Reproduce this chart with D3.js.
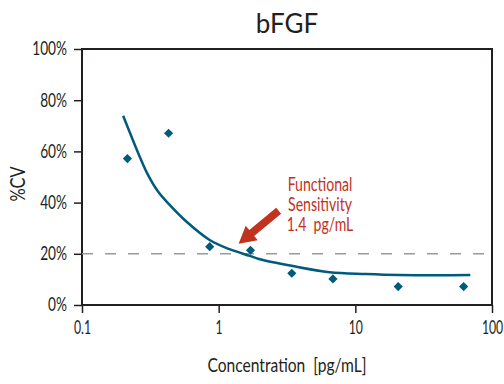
<!DOCTYPE html>
<html>
<head>
<meta charset="utf-8">
<script src="https://cdn.jsdelivr.net/npm/d3@7"></script>
<style>
  body { margin: 0; background: #fff; }
  text { font-family: Lato, "Open Sans", sans-serif; }
</style>
</head>
<body>
<svg id="chart" width="504" height="384"></svg>
<script>
// measured points: concentration (pg/mL) and %CV
const concentrations = [0.215, 0.43, 0.86, 1.71, 3.43, 6.86, 20.6, 62];
const cvValues = [57.2, 67.1, 22.8, 21.4, 12.4, 10.2, 7.2, 7.2];

// fitted curve
const fitConc = [0.2, 0.23, 0.264, 0.304, 0.36, 0.438, 0.58, 0.859, 1.2, 1.69, 2.0, 3.42, 6.48, 12, 21.1, 40, 69.4];
const fitCv = [73.9, 65.8, 58.0, 50.8, 44.3, 39.1, 32.6, 25.4, 21.8, 19.2, 17.9, 15.3, 12.8, 12.1, 11.7, 11.6, 11.7];

const xTicks = [0.1, 1, 10, 100];
const yTicks = [0, 20, 40, 60, 80, 100];
const cutoff = 20;
const sensitivityLines = ["Functional", "Sensitivity", "1.4  pg/mL"];

const margin = { top: 49, right: 12, bottom: 79, left: 82 };
const width = 504, height = 384;
const blue = "#005a7c", red = "#c1321f", ink = "#231f20";

const svg = d3.select("#chart");

const x = d3.scaleLog().domain([0.1, 100]).range([margin.left, width - margin.right]);
const y = d3.scaleLinear().domain([0, 100]).range([height - margin.bottom, margin.top]);

// squeeze text so it looks like the narrow face of the original
const condense = (sel, k) =>
  sel.each(function () {
    const w = this.getComputedTextLength();
    d3.select(this).attr("textLength", w * k).attr("lengthAdjust", "spacingAndGlyphs");
  });

// * title
svg.append("text")
  .attr("x", (x.range()[0] + x.range()[1]) / 2)
  .attr("y", 33)
  .attr("text-anchor", "middle")
  .style("font-size", "26px")
  .style("fill", ink)
  .text("bFGF");

// * frame
svg.append("rect")
  .attr("x", x.range()[0])
  .attr("y", y.range()[1])
  .attr("width", x.range()[1] - x.range()[0])
  .attr("height", y.range()[0] - y.range()[1])
  .style("fill", "none")
  .style("stroke", ink)
  .style("stroke-width", 2);

// * axes
const xAxis = svg.append("g")
  .attr("transform", `translate(0,${y.range()[0]})`)
  .call(d3.axisBottom(x).tickValues(xTicks).tickFormat(d3.format("")).tickSize(8).tickPadding(8));

const yAxis = svg.append("g")
  .attr("transform", `translate(${x.range()[0]},0)`)
  .call(d3.axisLeft(y).tickValues(yTicks).tickFormat((d) => d + "%").tickSize(8).tickPadding(7));

[xAxis, yAxis].forEach((axis) => {
  axis.select(".domain").remove();
  axis.selectAll(".tick line").style("stroke", ink).style("stroke-width", 1.5);
  axis.selectAll(".tick text").style("font-family", "Lato, sans-serif").style("font-size", "18.5px").style("fill", ink);
});
// x labels sit at x=0, so a plain horizontal scale keeps them centred on the tick
xAxis.selectAll(".tick text").attr("transform", "scale(0.66,1)");
condense(yAxis.selectAll(".tick text"), 0.74);

// * axis titles
condense(
  svg.append("text")
    .attr("x", (x.range()[0] + x.range()[1]) / 2)
    .attr("y", 372)
    .attr("text-anchor", "middle")
    .style("white-space", "pre")
    .style("font-size", "20px")
    .style("fill", ink)
    .text("Concentration  [pg/mL]"),
  0.78,
);

condense(
  svg.append("text")
    .attr("transform", "translate(25,184) rotate(-90)")
    .attr("text-anchor", "middle")
    .style("font-size", "21px")
    .style("fill", ink)
    .text("%CV"),
  0.78,
);

// * 20% cutoff line
svg.append("line")
  .attr("x1", x.range()[0])
  .attr("x2", x.range()[1])
  .attr("y1", y(cutoff))
  .attr("y2", y(cutoff))
  .style("stroke", "#9a9a9a")
  .style("stroke-width", 1.5)
  .style("stroke-dasharray", "11 12");

// * fitted curve
const fit = fitConc.map((c, i) => ({ c, v: fitCv[i] }));
svg.append("path")
  .datum(fit)
  .attr("d", d3.line().x((d) => x(d.c)).y((d) => y(d.v)).curve(d3.curveCatmullRom))
  .style("fill", "none")
  .style("stroke", blue)
  .style("stroke-width", 2.5);

// * points
const points = concentrations.map((c, i) => ({ c, v: cvValues[i] }));
svg.append("g")
  .selectAll("path")
  .data(points)
  .enter()
  .append("path")
  .attr("d", d3.symbol().type(d3.symbolSquare).size(42))
  .attr("transform", (d) => `translate(${x(d.c)},${y(d.v)}) rotate(45)`)
  .style("fill", blue);

// * arrow pointing at functional sensitivity
const tip = [x(1.4), y(cutoff) - 10];
const tail = [tip[0] + 40, tip[1] - 33];
const ang = Math.atan2(tail[1] - tip[1], tail[0] - tip[0]);
const len = Math.hypot(tail[0] - tip[0], tail[1] - tip[1]);
const headLen = 17, headW = 9.5, shaftW = 3.8;
const arrowPts = [
  [0, 0], [headLen, -headW], [headLen, -shaftW], [len, -shaftW],
  [len, shaftW], [headLen, shaftW], [headLen, headW],
];
svg.append("path")
  .attr("d", d3.line()(arrowPts))
  .attr("transform", `translate(${tip[0]},${tip[1]}) rotate(${(ang * 180) / Math.PI})`)
  .style("fill", red);

condense(
  svg.append("g")
    .selectAll("text")
    .data(sensitivityLines)
    .enter()
    .append("text")
    .attr("x", 320)
    .attr("y", (d, i) => 191 + i * 20)
    .attr("text-anchor", "middle")
    .style("white-space", "pre")
    .style("font-size", "18.5px")
    .style("fill", red)
    .text((d) => d),
  0.76,
);
</script>
</body>
</html>
